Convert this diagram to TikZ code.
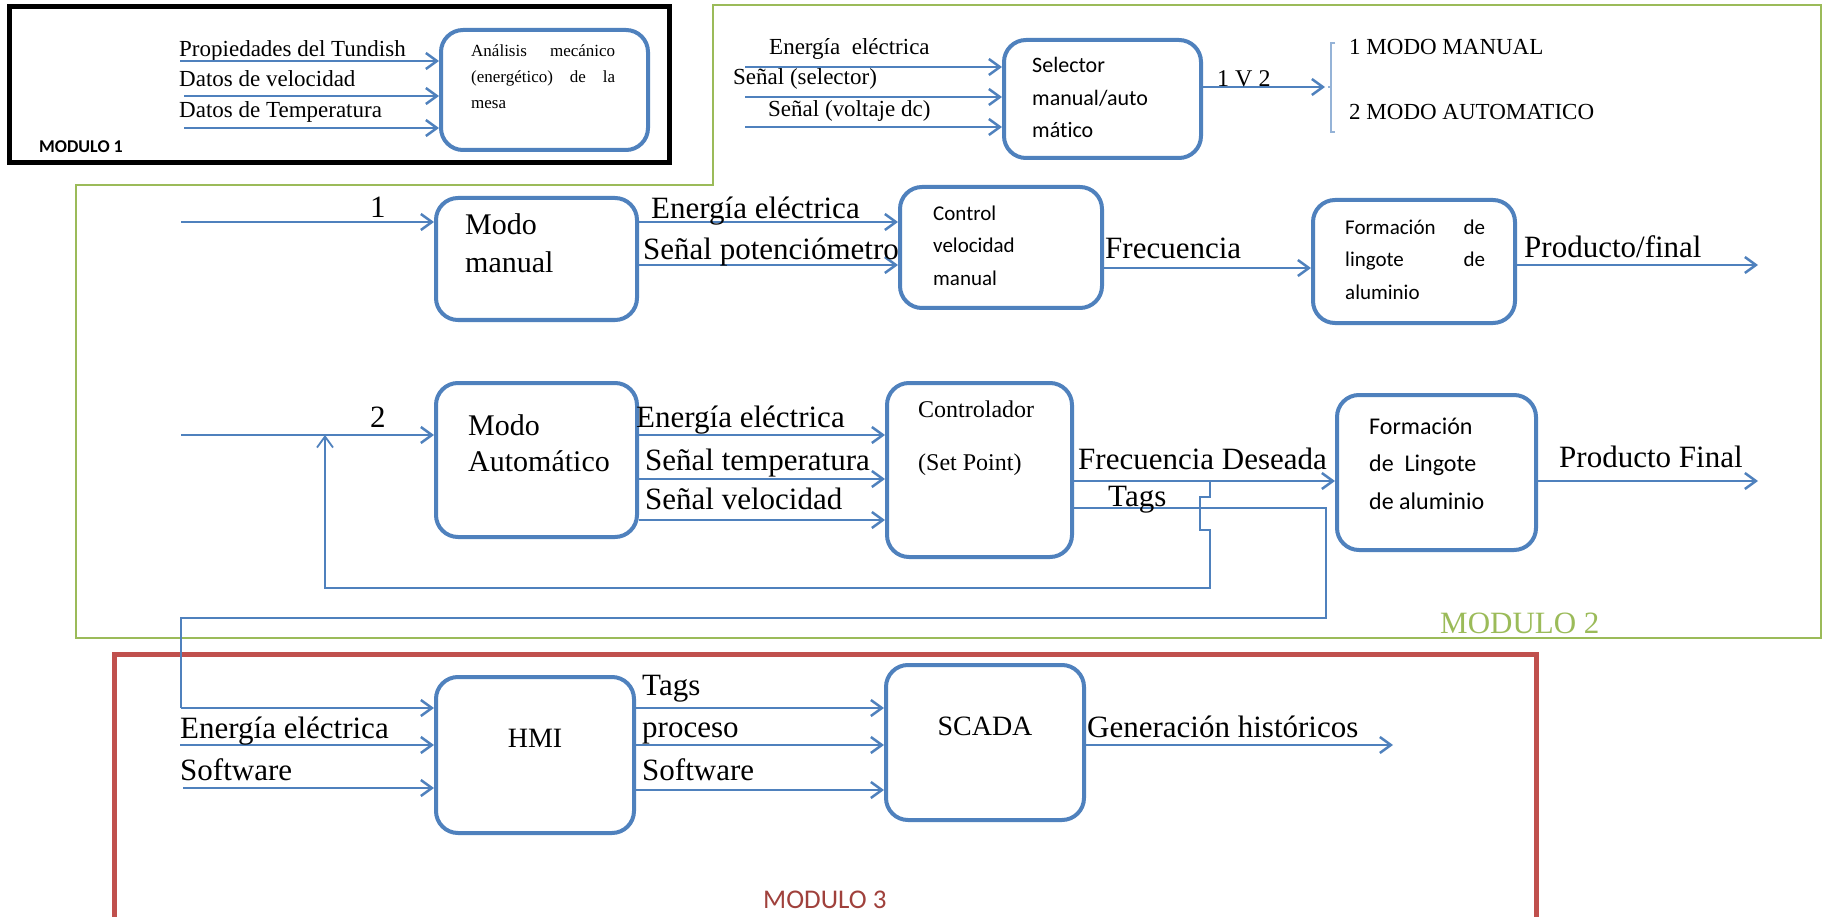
\documentclass[tikz,border=0pt]{standalone}
\usepackage{fontspec}
\setmainfont{Liberation Serif}
\newfontfamily\calibri[Ligatures=NoCommon]{Carlito}
\usetikzlibrary{arrows.meta}
\definecolor{azul}{HTML}{4F81BD}
\definecolor{verde}{HTML}{9BBB59}
\definecolor{rojo}{HTML}{C0504D}
\definecolor{granate}{HTML}{A0413C}
\definecolor{celeste}{HTML}{95B3D7}

\tikzset{caja/.style = {draw=azul, line width=4pt, rounded corners=#1, inner sep=0pt},
         caja/.default=22pt,
         flecha/.style = {draw=azul, line width=2.5pt, -{Straight Barb[length=11pt,width=16pt]}},
         enlace/.style = {draw=azul, line width=1.8pt},
         rotulo/.style = {font=\fontsize{#1}{#1}\selectfont, anchor=base west, inner sep=0pt},
         rotulo/.default=31,
         letrero/.style = {font=\calibri\fontsize{#1}{#1}\selectfont, anchor=base west, inner sep=0pt},
         letrero/.default=21
        }

\begin{document}
\begin{tikzpicture}[x=1pt,y=-1pt]
  \useasboundingbox (0,0) rectangle (1831,917);
  \fill[white] (0,0) rectangle (1831,917);
  \draw[line width=5pt] (9,7) rectangle (669,163);
  \draw[verde, line width=1.5pt] (713,5) -- (1821,5) -- (1821,638) -- (76,638) -- (76,185) -- (713,185) -- cycle;
  \draw[rojo, line width=5pt] (114,917) -- (114,654) -- (1536,654) -- (1536,917);

  \node[caja, minimum width=207pt, minimum height=120pt] (analisis) at (544.5,90) {};
  \node[rotulo=17] (an1) at (471,57) {\makebox[144pt][s]{Análisis mecánico}};
  \node[rotulo=17] (an2) at (471,83) {\makebox[144pt][s]{(energético) de la}};
  \node[rotulo=17] (an3) at (471,109) {mesa};
  \node[rotulo=23] (prop) at (179,57) {Propiedades del Tundish};
  \node[rotulo=23] (vel) at (179,87) {Datos de velocidad};
  \node[rotulo=23] (temp) at (179,118) {Datos de Temperatura};
  \coordinate (e-prop) at (180,61);
  \coordinate (e-vel) at (184,96);
  \coordinate (e-temp) at (184,128);
  \draw[flecha] (e-prop) -- (analisis.west |- e-prop);
  \draw[flecha] (e-vel) -- (analisis.west |- e-vel);
  \draw[flecha] (e-temp) -- (analisis.west |- e-temp);
  \node[letrero=18] (mod1) at (39,153) {\bfseries MODULO 1};

  \node[caja, minimum width=197pt, minimum height=118pt] (selector) at (1102.5,99) {};
  \node[letrero=22] (sel1) at (1032,73) {Selector};
  \node[letrero=22] (sel2) at (1032,106) {manual/auto};
  \node[letrero=22] (sel3) at (1032,138) {mático};
  \node[rotulo=23] (s-ener) at (769,55) {Energía\ \ eléctrica};
  \node[rotulo=23] (s-sel) at (733,85) {Señal (selector)};
  \node[rotulo=23] (s-volt) at (768,117) {Señal (voltaje dc)};
  \coordinate (e-ener) at (745,67);
  \coordinate (e-sel) at (745,97);
  \coordinate (e-volt) at (745,127);
  \draw[flecha] (e-ener) -- (selector.west |- e-ener);
  \draw[flecha] (e-sel) -- (selector.west |- e-sel);
  \draw[flecha] (e-volt) -- (selector.west |- e-volt);
  \coordinate (llave) at (1325,87);
  \draw[flecha] (selector.east |- llave) -- (llave);
  \node[rotulo=24] (ov) at (1217,87) {1 V 2};
  \draw[celeste, line width=1.3pt] (1335,43) -- (1331,43) -- (1331,132) -- (1335,132);
  \draw[celeste, line width=1.3pt] (1331,87) -- (1328,87);
  \node[rotulo=23] (modo1) at (1349,55) {1 MODO MANUAL};
  \node[rotulo=23] (modo2) at (1349,120) {2 MODO AUTOMATICO};

  \node[caja, minimum width=201pt, minimum height=122pt] (manual) at (536.5,259) {};
  \node[rotulo=30] (m1) at (465,235) {Modo};
  \node[rotulo=30] (m2) at (465,273) {manual};
  \coordinate (e-uno) at (181,222);
  \draw[flecha] (e-uno) -- (manual.west |- e-uno);
  \node[rotulo] (uno) at (370,218) {1};
  \node[caja, minimum width=202pt, minimum height=121pt] (control) at (1001,247.5) {};
  \node[letrero] (c1) at (933,221) {Control};
  \node[letrero] (c2) at (933,253) {velocidad};
  \node[letrero] (c3) at (933,286) {manual};
  \draw[flecha] (manual.east |- 0,222) -- (control.west |- 0,222);
  \draw[flecha] (manual.east |- 0,265) -- (control.west |- 0,265);
  \node[rotulo] (r-ener) at (651,219) {Energía eléctrica};
  \node[rotulo] (r-pot) at (643,260) {Señal potenciómetro};
  \node[caja, minimum width=202pt, minimum height=123pt] (lingote) at (1414,261.5) {};
  \node[letrero] (l1) at (1345,235) {\makebox[140pt][s]{Formación de}};
  \node[letrero] (l2) at (1345,267) {\makebox[140pt][s]{lingote de}};
  \node[letrero] (l3) at (1345,300) {aluminio};
  \draw[flecha] (control.east |- 0,268) -- (lingote.west |- 0,268);
  \node[rotulo] (frec) at (1105,259) {Frecuencia};
  \coordinate (s-uno) at (1758,265);
  \draw[flecha] (lingote.east |- s-uno) -- (s-uno);
  \node[rotulo] (prod) at (1524,258) {Producto/final};

  \node[caja, minimum width=201pt, minimum height=154pt] (automatico) at (536.5,460) {};
  \node[rotulo=30] (a1) at (468,435) {Modo};
  \node[rotulo=30] (a2) at (468,471) {Automático};
  \coordinate (e-dos) at (181,435);
  \draw[flecha] (e-dos) -- (automatico.west |- e-dos);
  \node[rotulo] (dos) at (370,427) {2};
  \node[caja, minimum width=185pt, minimum height=174pt] (controlador) at (979.5,470) {};
  \node[rotulo=24] (k1) at (918,417) {Controlador};
  \node[rotulo=24] (k2) at (918,470) {(Set Point)};
  \draw[flecha] (automatico.east |- 0,435) -- (controlador.west |- 0,435);
  \draw[flecha] (automatico.east |- 0,479) -- (controlador.west |- 0,479);
  \draw[flecha] (automatico.east |- 0,520) -- (controlador.west |- 0,520);
  \node[rotulo] (b-ener) at (636,427) {Energía eléctrica};
  \node[rotulo] (b-temp) at (645,470) {Señal temperatura};
  \node[rotulo] (b-vel) at (645,509) {Señal velocidad};
  \node[caja, minimum width=199pt, minimum height=155pt] (lingoteb) at (1436.5,472.5) {};
  \node[letrero=24] (lb1) at (1369,434) {Formación};
  \node[letrero=24] (lb2) at (1369,471) {de\ \ Lingote};
  \node[letrero=24] (lb3) at (1369,509) {de aluminio};
  \draw[flecha] (controlador.east |- 0,481) -- (lingoteb.west |- 0,481);
  \node[rotulo] (fdes) at (1078,469) {Frecuencia Deseada};
  \coordinate (s-dos) at (1758,481);
  \draw[flecha] (lingoteb.east |- s-dos) -- (s-dos);
  \node[rotulo] (prodb) at (1559,467) {Producto Final};
  \coordinate (retorno) at (1210,481);
  \draw[enlace, -{Straight Barb[length=11pt,width=16pt]}] (retorno) -- (1210,497) -- (1200,497) -- (1200,530) -- (1210,530) -- (1210,588) -- (325,588) -- (e-dos -| 325,0);
  \coordinate (hacia-hmi) at (181,708);
  \draw[enlace] (controlador.east |- 0,508) -- (1326,508) -- (1326,618) -- (181,618) -- (hacia-hmi);
  \node[rotulo] (tags) at (1108,506) {Tags};
  \node[rotulo=31, text=verde] (mod2) at (1440,633) {MODULO 2};

  \node[caja, minimum width=198pt, minimum height=156pt] (hmi) at (535,755) {};
  \node[rotulo=28, anchor=base] (hmi-t) at (535,747) {HMI};
  \node[caja, minimum width=198pt, minimum height=155pt] (scada) at (985,742.5) {};
  \node[rotulo=28, anchor=base] (scada-t) at (985,735) {SCADA};
  \coordinate (e-hener) at (180,745);
  \coordinate (e-hsoft) at (183,788);
  \draw[flecha] (hacia-hmi) -- (hmi.west |- hacia-hmi);
  \draw[flecha] (e-hener) -- (hmi.west |- e-hener);
  \draw[flecha] (e-hsoft) -- (hmi.west |- e-hsoft);
  \node[rotulo] (h-ener) at (180,738) {Energía eléctrica};
  \node[rotulo] (h-soft) at (180,780) {Software};
  \draw[flecha] (hmi.east |- 0,708) -- (scada.west |- 0,708);
  \draw[flecha] (hmi.east |- 0,745) -- (scada.west |- 0,745);
  \draw[flecha] (hmi.east |- 0,790) -- (scada.west |- 0,790);
  \node[rotulo] (p-tags) at (642,695) {Tags};
  \node[rotulo] (p-proc) at (642,737) {proceso};
  \node[rotulo] (p-soft) at (642,780) {Software};
  \coordinate (s-hist) at (1393,745);
  \draw[flecha] (scada.east |- s-hist) -- (s-hist);
  \node[rotulo] (hist) at (1087,737) {Generación históricos};
  \node[letrero=27, text=granate] (mod3) at (763,908) {MODULO 3};
\end{tikzpicture}
\end{document}
